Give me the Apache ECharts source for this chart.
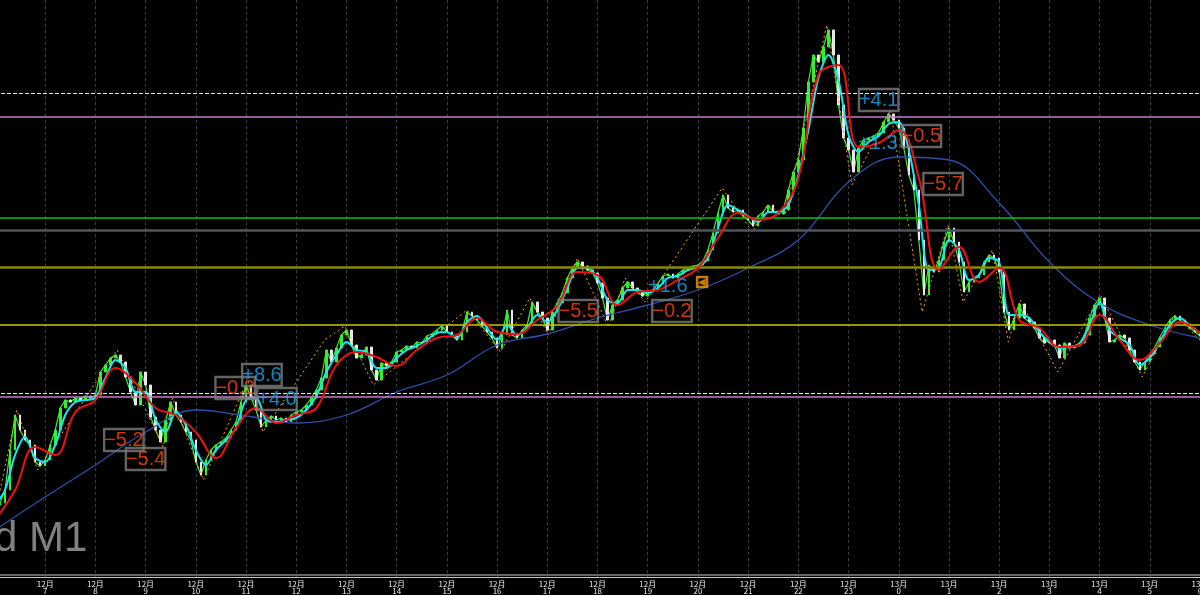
<!DOCTYPE html>
<html><head><meta charset="utf-8">
<script src="https://cdn.jsdelivr.net/npm/echarts@6/dist/echarts.min.js"></script>
<style>html,body{margin:0;padding:0;background:#000;overflow:hidden;width:1200px;height:595px;}#c{position:absolute;left:0;top:0;width:1200px;height:595px;}</style>
</head><body><div id="c"></div>
<script>
// x in minutes from 12月 6:00 ; price series sampled every 6 minutes
const priceStep = 6;
const price = [
144.95,144.97,145.10,145.50,145.85,145.70,145.60,145.55,145.38,145.34,
145.40,145.55,145.70,145.92,146.00,145.98,146.02,146.00,146.04,146.02,
146.05,146.28,146.35,146.42,146.45,146.38,146.23,146.08,145.95,146.28,
146.15,145.83,145.70,145.58,145.80,145.98,145.85,145.78,145.68,145.60,
145.38,145.25,145.40,145.50,145.55,145.58,145.62,145.70,145.78,145.98,
146.15,146.02,145.90,145.73,145.80,145.84,145.80,145.82,145.78,145.85,
145.88,145.90,145.95,146.02,146.10,146.22,146.50,146.38,146.52,146.65,
146.70,146.55,146.42,146.45,146.53,146.30,146.20,146.37,146.34,146.38,
146.48,146.50,146.54,146.52,146.58,146.57,146.64,146.66,146.70,146.74,
146.68,146.65,146.60,146.68,146.88,146.84,146.80,146.74,146.68,146.62,
146.52,146.65,146.90,146.65,146.62,146.70,146.75,146.98,146.88,146.82,
146.70,146.88,146.97,147.07,147.22,147.32,147.38,147.34,147.30,147.27,
147.17,147.02,146.80,146.95,147.00,147.12,147.18,147.12,147.08,147.04,
147.08,147.10,147.16,147.24,147.26,147.22,147.26,147.30,147.32,147.34,
147.35,147.39,147.50,147.67,147.87,148.05,147.92,147.88,147.90,147.84,
147.80,147.74,147.84,147.88,147.95,147.88,147.86,147.90,148.10,148.28,
148.40,148.72,149.18,149.45,149.38,149.53,149.70,149.45,148.95,148.62,
148.50,148.28,148.52,148.60,148.62,148.64,148.67,148.78,148.86,148.80,
148.72,148.52,148.25,148.10,147.60,147.05,147.35,147.28,147.40,147.58,
147.72,147.58,147.38,147.08,147.18,147.22,147.25,147.38,147.45,147.42,
147.28,146.88,146.70,146.82,146.96,146.82,146.78,146.72,146.62,146.57,
146.60,146.55,146.42,146.57,146.52,146.54,146.57,146.65,146.82,146.95,
147.02,146.82,146.58,146.60,146.65,146.62,146.50,146.38,146.30,146.38,
146.46,146.53,146.63,146.72,146.80,146.84,146.80,146.76,146.72,146.68,146.64
];
// fast MA (cyan) every 12 minutes
const fastStep = 12;
const fastMA = [
144.95,145.10,145.45,145.63,145.42,145.38,145.55,145.85,145.98,146.00,
146.02,146.22,146.40,146.32,146.08,146.08,145.80,145.68,145.88,145.75,
145.50,145.35,145.50,145.60,145.72,146.00,146.02,145.80,145.78,145.80,
145.82,145.90,146.04,146.28,146.45,146.58,146.50,146.48,146.32,146.32,
146.42,146.50,146.54,146.60,146.67,146.68,146.62,146.78,146.84,146.72,
146.60,146.75,146.65,146.72,146.85,146.78,146.90,147.12,147.32,147.32,
147.22,147.00,146.97,147.10,147.10,147.07,147.12,147.22,147.24,147.30,
147.33,147.42,147.72,147.95,147.90,147.84,147.78,147.88,147.88,147.95,
148.25,148.70,149.22,149.45,149.20,148.65,148.48,148.58,148.64,148.76,
148.78,148.50,147.95,147.30,147.32,147.60,147.50,147.20,147.25,147.42,
147.38,146.85,146.85,146.82,146.68,146.58,146.52,146.53,146.56,146.75,
146.98,146.70,146.62,146.55,146.35,146.42,146.58,146.75,146.82,146.74,146.67
];
// slow MA (red) every 24 minutes
const slowStep = 24;
const slowMA = [
144.80,145.10,145.53,145.45,145.88,146.00,146.32,146.17,145.92,145.85,
145.68,145.42,145.72,145.92,145.77,145.85,145.92,146.35,146.48,146.43,
146.34,146.50,146.62,146.65,146.82,146.68,146.66,146.80,146.94,147.28,
147.25,146.95,147.08,147.10,147.20,147.32,147.62,147.87,147.80,147.87,
148.22,149.25,149.35,148.53,148.57,148.70,148.22,147.30,147.53,147.18,
147.32,146.80,146.72,146.53,146.55,146.85,146.60,146.40,146.57,146.78,146.67
];
// long MA (blue) hourly
const longStep = 60;
const longMA = [
144.70,145.03,145.35,145.68,145.90,145.84,145.77,145.85,146.08,146.25,
146.55,146.66,146.82,146.95,147.10,147.32,147.60,148.18,148.43,148.40,
147.97,147.38,146.97,146.75,146.62
];
// zigzag pivots
const zigTimes  = [0,26,51,146,201,212,249,302,320,394,418,452,564,604,639,661,696,733,753,777,869,905,923,944,994,1024,1070,1108,1139,1157,1192,1211,1225,1270,1321,1371,1410,1440];
const zigPrices = [144.85,145.90,145.30,146.50,145.53,146.02,145.20,146.20,145.68,146.60,146.74,146.15,146.90,146.48,147.02,146.65,147.42,146.73,147.22,146.98,148.12,147.68,147.95,147.85,149.75,148.15,148.90,146.88,147.75,146.98,147.50,146.58,147.00,146.28,147.05,146.23,146.85,146.60];
// horizontal levels
const levelPrices = [149.07,148.83,147.82,147.70,147.33,146.75,146.07,146.03];
const levelColors = ['#e8e8e8','#c878c8','#00c800','#4e565e','#8a8a00','#c8c800','#e8e8e8','#c878c8'];
const levelTypes  = ['dashed','solid','solid','solid','solid','solid','dashed','solid'];
const levelWidths = [1,1.5,1.5,2.5,2.5,1.5,1,1.5];
// annotations
const noteTexts  = ['−5.2','−5.4','−0.2','+8.6','+4.0','−5.5','+1.6','−0.2','◀','+4.1','+1.3','−0.5','−5.7'];
const noteTimes  = [154,180,287,319,337,697,804,809,845,1056,1055,1107,1133];
const notePrices = [145.60,145.41,146.12,146.25,146.01,146.89,147.14,146.89,147.18,149.00,148.57,148.64,148.16];
const noteBoxed  = [1,1,1,1,1,1,0,1,1,1,0,1,1];
// x-axis tick labels (hourly)
const tickLabels = ['','12月\n7','12月\n8','12月\n9','12月\n10','12月\n11','12月\n12','12月\n13','12月\n14','12月\n15','12月\n16','12月\n17','12月\n18','12月\n19','12月\n20','12月\n21','12月\n22','12月\n23','13月\n0','13月\n1','13月\n2','13月\n3','13月\n4','13月\n5','13月\n6'];

const pairs = (arr, step) => arr.map((v, i) => [i * step, v]);
// candles from consecutive closes (open = previous close)
const candles = price.map((c, i) => {
  const o = i ? price[i - 1] : c;
  return [i * priceStep, o, c, Math.min(o, c), Math.max(o, c)];
});

const notes = noteTexts.map((t, i) => {
  const neg = t.charAt(0) === '−';
  const small = t === '◀';
  const col = small ? '#ff9900' : (neg ? '#ff4410' : '#18a8f0');
  return {
    value: [noteTimes[i], notePrices[i]],
    label: {
      show: true, position: 'inside', formatter: t,
      color: col,
      fontSize: small ? 10 : 20,
      fontFamily: 'Liberation Sans, Arial, sans-serif',
      lineHeight: small ? 10 : 22,
      borderColor: noteBoxed[i] ? (small ? '#ff9900' : '#7c7c7c') : 'transparent',
      borderWidth: noteBoxed[i] ? 1.2 : 0,
      padding: small ? [0, 1, 0, 1] : [0, 0, 0, 0],
      backgroundColor: 'transparent'
    }
  };
});

const chart = echarts.init(document.getElementById('c'), null, {renderer: 'canvas', width: 1200, height: 595});
chart.setOption({
  backgroundColor: '#000',
  animation: false,
  grid: {left: -5, right: 0, top: 0, bottom: 18, containLabel: false, outerBoundsMode: 'none'},
  xAxis: {
    type: 'value', min: 0, max: 1440, interval: 60,
    axisLine: {show: true, lineStyle: {color: '#c8c8c8', width: 1}},
    axisTick: {show: false},
    axisLabel: {
      show: true, margin: 3, color: '#e8e8e8', fontSize: 8, lineHeight: 7,
      fontFamily: 'Noto Sans CJK JP, sans-serif',
      showMinLabel: true, showMaxLabel: true, hideOverlap: false,
      formatter: v => tickLabels[Math.round(v / 60)] || ''
    },
    splitLine: {show: true, lineStyle: {color: '#2c4646', type: [3, 3], width: 1}}
  },
  yAxis: {
    type: 'value', min: 144.23, max: 150.00, show: false,
    splitLine: {show: false}
  },
  series: [
    {
      type: 'line', name: 'levels', data: [], silent: true,
      markLine: {
        symbol: 'none', silent: true, label: {show: false},
        data: levelPrices.map((p, i) => ({
          yAxis: p,
          lineStyle: {color: levelColors[i], type: levelTypes[i], width: levelWidths[i]}
        }))
      }
    },
    {
      type: 'candlestick', name: 'bars', data: candles, barWidth: 2,
      itemStyle: {color: '#30f030', color0: '#e8e8e8', borderColor: '#30f030', borderColor0: '#e8e8e8', borderWidth: 1}, z: 2
    },
    {
      type: 'line', name: 'price', data: pairs(price, priceStep), showSymbol: false,
      lineStyle: {color: '#40e840', width: 1.2}, z: 2
    },
    {
      type: 'line', name: 'zigzag', data: zigTimes.map((t, i) => [t, zigPrices[i]]), showSymbol: false,
      lineStyle: {color: '#f0a010', width: 1, type: [2, 3]}, z: 3
    },
    {
      type: 'line', name: 'longMA', data: pairs(longMA, longStep), showSymbol: false, smooth: 0.4,
      lineStyle: {color: '#2d4fa8', width: 1.3}, z: 3
    },
    {
      type: 'line', name: 'fastMA', data: pairs(fastMA, fastStep), showSymbol: false, smooth: 0.3,
      lineStyle: {color: '#18e8f0', width: 2}, z: 4
    },
    {
      type: 'line', name: 'slowMA', data: pairs(slowMA, slowStep), showSymbol: false, smooth: 0.4,
      lineStyle: {color: '#f01010', width: 2}, z: 5
    },
    {
      type: 'scatter', name: 'notes', data: notes, symbol: 'rect', symbolSize: 1,
      itemStyle: {color: 'transparent'}, z: 6, silent: true
    }
  ],
  graphic: [
    {type: 'line', shape: {x1: 0, y1: 575, x2: 1200, y2: 575}, style: {stroke: '#c8c8c8', lineWidth: 1}, z: 10},
    {type: 'text', left: -6, top: 518, style: {text: 'd M1', fill: '#808080', font: '42px "Liberation Sans", Arial, sans-serif'}, z: 10}
  ]
});
</script>
</body></html>
